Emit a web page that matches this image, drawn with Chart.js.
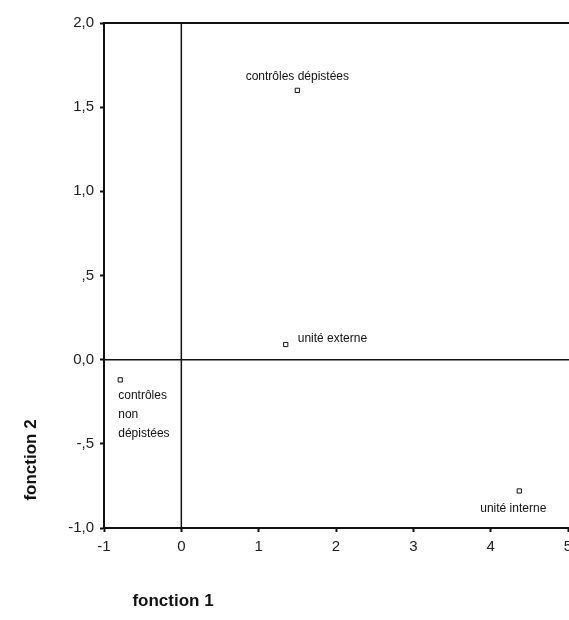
<!DOCTYPE html>
<html>
<head>
<meta charset="utf-8">
<script src="https://cdn.jsdelivr.net/npm/chart.js@4"></script>
<style>
  html, body { margin: 0; padding: 0; background: #fff; overflow: hidden; }
  #wrap { width: 569px; height: 620px; position: relative; overflow: hidden; }
</style>
</head>
<body>
<div id="wrap"><canvas id="mainChart" width="573" height="620"></canvas></div>
<script>
// Group centroids (fonction 1, fonction 2)
const groupNames = ['contrôles dépistées', 'unité externe', 'contrôles non dépistées', 'unité interne'];
const fonction1 = [1.5, 1.35, -0.79, 4.37];
const fonction2 = [1.6, 0.09, -0.12, -0.78];

const xTicks = [-1, 0, 1, 2, 3, 4, 5];
const yTickLabels = { '2': '2,0', '1.5': '1,5', '1': '1,0', '0.5': ',5', '0': '0,0', '-0.5': '-,5', '-1': '-1,0' };

// label placement per group: [align, dx, dy]
const labelPlace = [
    ['center', 0, -14],
    ['left', 12, -6],
    ['left', -2, 16],
    ['center', -6, 18]
];

const ctx = document.getElementById('mainChart').getContext('2d');

const decorPlugin = {
    id: 'decor',
    afterDatasetsDraw(chart) {
        const { ctx, chartArea, scales } = chart;
        const x0 = scales.x.getPixelForValue(0);
        const y0 = scales.y.getPixelForValue(0);
        ctx.save();
        ctx.strokeStyle = '#111';
        // top border
        ctx.lineWidth = 2;
        ctx.beginPath();
        ctx.moveTo(chartArea.left, chartArea.top);
        ctx.lineTo(chartArea.right + 4, chartArea.top);
        ctx.stroke();
        // zero lines
        ctx.lineWidth = 1.5;
        ctx.beginPath();
        ctx.moveTo(x0, chartArea.top);
        ctx.lineTo(x0, chartArea.bottom);
        ctx.moveTo(chartArea.left, y0);
        ctx.lineTo(chartArea.right + 4, y0);
        ctx.stroke();

        // point labels
        ctx.fillStyle = '#111';
        ctx.font = '12px "Liberation Sans", Arial, sans-serif';
        ctx.textBaseline = 'middle';
        const meta = chart.getDatasetMeta(0);
        meta.data.forEach((pt, i) => {
            const [align, dx, dy] = labelPlace[i];
            ctx.textAlign = align;
            const words = (i === 2) ? ['contrôles', 'non', 'dépistées'] : [groupNames[i]];
            words.forEach((w, k) => ctx.fillText(w, pt.x + dx, pt.y + dy + k * 19));
        });

        // axis titles
        ctx.font = 'bold 17px "Liberation Sans", Arial, sans-serif';
        ctx.textAlign = 'center';
        ctx.fillText('fonction 1', 173, 601);
        ctx.save();
        ctx.translate(31, 460);
        ctx.rotate(-Math.PI / 2);
        ctx.fillText('fonction 2', 0, 0);
        ctx.restore();
        ctx.restore();
    }
};

new Chart(ctx, {
    type: 'scatter',
    data: {
        datasets: [{
            label: 'groupes',
            data: fonction1.map((v, i) => ({ x: v, y: fonction2[i] })),
            pointStyle: 'rect',
            pointRadius: 3,
            pointBackgroundColor: '#fff',
            pointBorderColor: '#111',
            pointBorderWidth: 1
        }]
    },
    options: {
        responsive: false,
        animation: false,
        layout: { padding: { top: 23, right: 0, left: 0, bottom: 0 } },
        plugins: { legend: { display: false }, tooltip: { enabled: false } },
        scales: {
            x: {
                type: 'linear',
                min: -1, max: 5,
                afterBuildTicks(scale) { scale.ticks = xTicks.map(v => ({ value: v })); },
                afterFit(scale) { scale.height = 92; scale.paddingRight = 0; scale.paddingLeft = 0; },
                grid: { drawOnChartArea: false, drawTicks: true, tickLength: 4, color: '#111', tickWidth: 2 },
                border: { display: true, color: '#111', width: 2 },
                ticks: {
                    color: '#222', padding: 6, maxRotation: 0,
                    font: { family: '"Liberation Sans Narrow", "Liberation Sans", Arial', size: 15 },
                    callback: v => String(v)
                }
            },
            y: {
                type: 'linear',
                min: -1, max: 2,
                afterBuildTicks(scale) {
                    scale.ticks = Object.keys(yTickLabels).map(k => ({ value: Number(k) }));
                },
                afterFit(scale) { scale.width = 104; },
                grid: { drawOnChartArea: false, drawTicks: true, tickLength: 4, color: '#111', tickWidth: 2 },
                border: { display: true, color: '#111', width: 2 },
                ticks: {
                    color: '#222', padding: 6,
                    font: { family: '"Liberation Sans Narrow", "Liberation Sans", Arial', size: 15 },
                    callback: v => yTickLabels[String(v)]
                }
            }
        }
    },
    plugins: [decorPlugin]
});
</script>
</body>
</html>
